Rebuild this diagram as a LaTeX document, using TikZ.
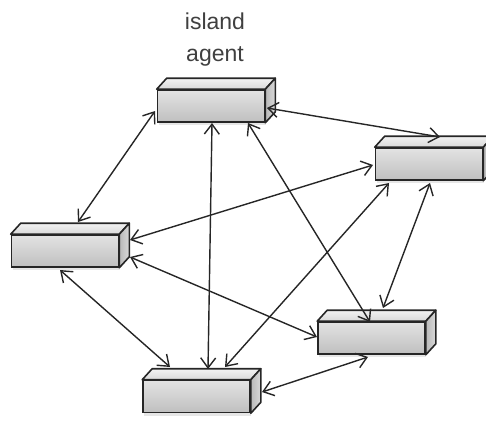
\documentclass[tikz,border=0pt]{standalone}
\usepackage{fontspec}
\setmainfont{Liberation Sans}
\usepackage{tikz}
\usetikzlibrary{calc,arrows.meta,shadows}

% one cuboid: front face is the named node, top and side are drawn on it
\newcommand{\agentbox}[2]{%
  \node[frontface] (#1) at (#2) {};
  \draw[topface] (#1.north west) -- ++(10,-11) -- ($(#1.north east)+(10,-11)$) -- (#1.north east) -- cycle;
  \draw[sideface] (#1.north east) -- ++(10,-11) -- ($(#1.south east)+(10,-11)$) -- (#1.south east) -- cycle;
}

\begin{document}
\begin{tikzpicture}[x=1pt,y=-1pt,
  frontface/.style={draw=black!85,line width=1.6pt,inner sep=0pt,
    minimum width=107pt,minimum height=32pt,
    top color=gray!22,bottom color=gray!50,
    drop shadow={opacity=0.2,shadow xshift=1pt,shadow yshift=-3pt}},
  topface/.style={draw=black!85,line width=1.6pt,line join=round,
    top color=gray!10,bottom color=gray!30},
  sideface/.style={draw=black!85,line width=1.6pt,line join=round,
    left color=gray!55,right color=gray!30},
  link/.style={{Straight Barb[length=10pt,width=15pt]}-{Straight Barb[length=10pt,width=15pt]},
    line width=1.4pt,draw=black!85}]
\useasboundingbox (0,0) rectangle (486,420);

\node[font=\fontsize{23}{32}\selectfont,text=black!75,align=center] (title) at (215,40) {island\\agent};

\agentbox{top}{211,106}
\agentbox{right}{429,164}
\agentbox{left}{65,251}
\agentbox{lowright}{371.5,338}
\agentbox{bottom}{196.5,396.5}

% connectors
\draw[link] ($(top)+(-56,5)$) -- ($(left)+(13,-29)$);
\draw[link] ($(top)+(1,17)$) -- ($(bottom)+(11.5,-27.5)$);
\draw[link] ($(top)+(37,17)$) -- ($(lowright)+(-1.5,-16)$);
\draw[link] ($(top)+(56,2)$) -- ($(right)+(11,-27)$);
\draw[link] ($(right)+(-56,1)$) -- ($(left)+(65,-11)$);
\draw[link] ($(right)+(-40,19)$) -- ($(bottom)+(28.5,-29.5)$);
\draw[link] ($(right)+(1,19)$) -- ($(lowright)+(11.5,-30)$);
\draw[link] ($(left)+(65,6)$) -- ($(lowright)+(-54.5,-1)$);
\draw[link] ($(left)+(-5,19)$) -- ($(bottom)+(-26.5,-29.5)$);
\draw[link] ($(bottom)+(65.5,-4.5)$) -- ($(lowright)+(-3.5,19)$);
\end{tikzpicture}
\end{document}
